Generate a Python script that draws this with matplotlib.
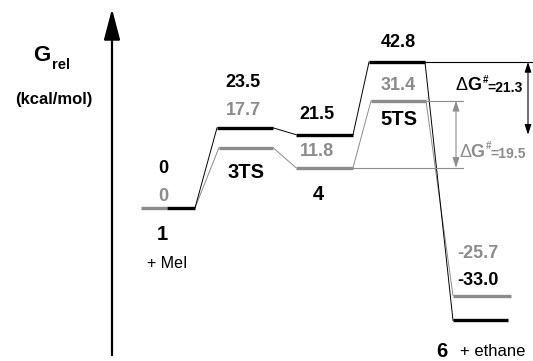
import matplotlib.pyplot as plt

# Relative free energies (kcal/mol)
states = ['1', '3TS', '4', '5TS', '6']
g_black = [0.0, 23.5, 21.5, 42.8, -33.0]
g_grey = [0.0, 17.7, 11.8, 31.4, -25.7]
dg_black = 21.3
dg_grey = 19.5

BLACK = '#000000'
GREY = '#8c8c8c'

# layout (x in pixels of reaction coordinate)
black_x = [(167, 195), (217, 273), (296, 353), (369, 425), (453, 508)]
grey_x = [(141, 167), (219, 273), (296, 353), (371, 426), (453, 511)]
black_lab = [(163, 11.7), (243, 36.7), (317, 27.3), (398, 48.4), (478, -21.4)]
grey_lab = [(163, 3.5), (243, 28.7), (317, 16.7), (398, 35.8), (478, -13.5)]
name_pos = [(162, -7.9), (246, 10.3), (318, 3.8), (399, 25.8), (442, -42.2)]


def fmt(v):
    return '0' if v == 0 else f'{v:.1f}'


plt.rcParams['font.family'] = ['Liberation Sans', 'DejaVu Sans']
fig = plt.figure(figsize=(5.33, 3.61), dpi=100)
ax = fig.add_axes([0, 0, 1, 1])
ax.set_xlim(0, 533)
ax.set_ylim(-44.9, 61.0)
ax.axis('off')

# energy axis arrow
ax.annotate('', xy=(112, 58.4), xytext=(112, -43.2),
            arrowprops=dict(arrowstyle='-|>,head_length=1.9,head_width=0.5',
                            lw=1.6, color='black', shrinkA=0, shrinkB=0))
ax.text(33, 44.6, 'G', fontsize=16, fontweight='bold', va='center')
ax.text(52, 42.0, 'rel', fontsize=10.5, fontweight='bold', va='center')
ax.text(54, 31.7, '(kcal/mol)', fontsize=12, fontweight='bold',
        ha='center', va='center')

# connectors
for g, xs, col in [(g_grey, grey_x, GREY), (g_black, black_x, BLACK)]:
    for i in range(len(g) - 1):
        x0 = black_x[0][1] if i == 0 else xs[i][1]
        ax.plot([x0, xs[i + 1][0]], [g[i], g[i + 1]], color=col, lw=0.7)

# levels
for g, xs, col in [(g_grey, grey_x, GREY), (g_black, black_x, BLACK)]:
    for v, (a, b) in zip(g, xs):
        ax.plot([a, b], [v, v], color=col, lw=2.4, solid_capstyle='butt')

# energy labels
for v, (x, y) in zip(g_black, black_lab):
    ax.text(x, y, fmt(v), fontsize=13, fontweight='bold', color=BLACK,
            ha='center', va='center')
for v, (x, y) in zip(g_grey, grey_lab):
    ax.text(x, y, fmt(v), fontsize=13, fontweight='bold', color=GREY,
            ha='center', va='center')

# state names
for s, (x, y) in zip(states, name_pos):
    ax.text(x, y, s, fontsize=14.5, fontweight='bold', ha='center', va='center')
ax.text(167, -16.4, '+ MeI', fontsize=11.5, ha='center', va='center')
ax.text(493, -42.2, '+ ethane', fontsize=12, ha='center', va='center')

# activation barriers
ax.plot([black_x[3][1], 533], [g_black[3], g_black[3]], color=BLACK, lw=0.8)
ax.annotate('', xy=(528, g_black[3]), xytext=(528, g_black[2]),
            arrowprops=dict(arrowstyle='<|-|>,head_length=0.6,head_width=0.2',
                            lw=0.8, color=BLACK, shrinkA=0, shrinkB=0))
ax.plot([grey_x[3][1], 463], [g_grey[3], g_grey[3]], color=GREY, lw=0.8)
ax.plot([grey_x[2][1], 463], [g_grey[2], g_grey[2]], color=GREY, lw=0.8)
ax.annotate('', xy=(456, g_grey[3]), xytext=(456, g_grey[2]),
            arrowprops=dict(arrowstyle='<|-|>,head_length=0.6,head_width=0.2',
                            lw=0.8, color=GREY, shrinkA=0, shrinkB=0))

for x, y, val, col in [(456, 35.8, dg_black, BLACK), (459, 16.4, dg_grey, GREY)]:
    ax.text(x, y, '\u0394', fontsize=13, color=col, va='center')
    ax.text(x + 11, y, 'G', fontsize=13, fontweight='bold', color=col,
            va='center')
    ax.text(x + 27, y + 1.8, '#', fontsize=7, fontweight='bold', color=col,
            va='center')
    ax.text(x + 31, y - 0.6, f'={val:.1f}', fontsize=10, fontweight='bold',
            color=col, va='center')

plt.savefig('out.png', dpi=100)
